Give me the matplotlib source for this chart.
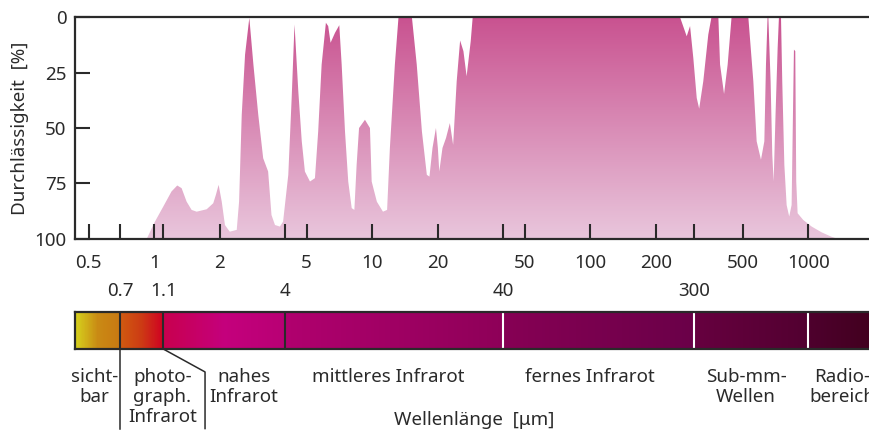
import matplotlib
matplotlib.use("Agg")
import matplotlib.pyplot as plt
import matplotlib.transforms as mtransforms
from matplotlib.colors import LinearSegmentedColormap
from matplotlib.ticker import NullLocator
import numpy as np

plt.rcParams['font.family'] = ['Noto Sans', 'DejaVu Sans']

# absorption of the atmosphere (0 = fully transparent at top, 100 = opaque)
wavelength = [0.923, 1.007, 1.10, 1.20, 1.275, 1.335, 1.408, 1.484, 1.565, 1.74,
              1.865, 1.918, 1.974, 2.04, 2.11, 2.22, 2.39, 2.45, 2.52, 2.61,
              2.73, 2.85, 3.0, 3.16, 3.33, 3.45, 3.58, 3.77, 3.90, 4.12,
              4.27, 4.40, 4.58, 4.75, 4.91, 5.18, 5.46, 5.65, 5.86, 6.13,
              6.28, 6.44, 6.75, 7.06, 7.24, 7.50, 7.76, 8.05, 8.28, 8.48,
              8.70, 9.26, 9.76, 9.94, 10.5, 11.2, 11.7, 12.05, 12.7, 13.2,
              15.2, 16.0, 16.9, 17.8, 18.3, 18.9, 19.6, 20.0, 20.3, 21.0,
              21.8, 22.7, 23.5, 24.4, 25.3, 26.2, 27.1, 28.3, 28.9, 258,
              277, 287, 297, 308, 316, 330, 348, 360, 387, 394,
              411, 427, 445, 531, 560, 580, 607, 629, 640, 651,
              656, 672, 684, 694, 708, 724, 734, 750, 760, 777,
              796, 818, 839, 851, 860, 872, 881, 894, 948, 1037,
              1152, 1279, 1373]
opacity = [100, 92.2, 85.4, 78.6, 75.9, 77.1, 83.2, 86.9, 87.7, 86.6,
           83.9, 80.1, 75.6, 83.2, 93.7, 96.7, 95.9, 83.2, 44, 16.9,
           0.4, 21.4, 44, 63.6, 69.6, 89.2, 93.7, 94.4, 92.2, 71.1,
           36.5, 3.4, 33.5, 56, 69.6, 74.1, 72.6, 51.6, 21.4, 2.6,
           4.1, 11.6, 7.1, 3.7, 21.4, 51.6, 74.1, 86.1, 86.9, 66.6,
           50, 46.3, 50, 74.1, 83.2, 87.7, 86.9, 59, 21.4, 0,
           0, 21.4, 51.6, 71.1, 71.9, 59, 50, 59, 69.6, 59,
           54.5, 47.8, 57.6, 29, 10.6, 15.4, 26.7, 10.9, 0, 0,
           8.7, 4.1, 18.4, 36.5, 41.3, 29, 7.9, 0, 0, 21.4,
           34.7, 21.4, 0, 0, 29, 56, 64.3, 56, 21.4, 0,
           0, 29, 62, 74.1, 44, 13.9, 0, 0, 29, 66.6,
           84.7, 89.9, 84.7, 44, 14.7, 15.4, 74.1, 88.4, 91.4, 94.4,
           97, 99, 100]

major_ticks = [0.5, 1, 2, 5, 10, 20, 50, 100, 200, 500, 1000]
minor_ticks = [0.7, 1.1, 4, 40, 300]
y_ticks = [0, 25, 50, 75, 100]

# spectral bands for the colour bar: start, end, colours along the band
bands = [(0.433, 0.7, ['#D6D21C', '#C98A14', '#C87812']),
         (0.7, 1.1, ['#D05A10', '#CC3A14', '#D00022']),
         (1.1, 4.0, ['#C8004E', '#C4007C', '#B80074']),
         (4.0, 40, ['#B0006E', '#8E0058']),
         (40, 300, ['#860054', '#6A0048']),
         (300, 1000, ['#66003F', '#520030']),
         (1000, 1900, ['#4E002D', '#42001F'])]
dark_dividers = [0.7, 1.1, 4]
white_dividers = [40, 300, 1000]

band_labels = ['sicht-\nbar', 'photo-\ngraph.\nInfrarot', 'nahes\nInfrarot',
               'mittleres Infrarot', 'fernes Infrarot', 'Sub-mm-\nWellen',
               'Radio-\nbereich']
band_label_x = [0.53, 1.09, 2.58, 11.8, 100, 518, 1426]

W, H = 869, 432
fig = plt.figure(figsize=(W / 100, H / 100), dpi=100)
ink = '#2a2a2a'
fs = 13.5

ax = fig.add_axes([75 / W, 1 - 239 / H, 1 - 75 / W, 222 / H])
ax.set_xscale('log')

# gradient fill clipped to the curve
poly_x = list(wavelength) + [wavelength[-1], wavelength[0]]
poly_y = list(opacity) + [100, 100]
patch = ax.fill(poly_x, poly_y, facecolor='none', edgecolor='none')[0]
grad = LinearSegmentedColormap.from_list('pink', ['#C95290', '#E9C6DC'])
im = ax.imshow(np.linspace(0, 1, 256).reshape(-1, 1), cmap=grad, aspect='auto',
               extent=(0.433, 1900, 100, 0), origin='upper', zorder=1)
im.set_clip_path(patch)
ax.set_xlim(0.433, 1900)
ax.set_ylim(100, 0)

for s in ['left', 'top', 'bottom']:
    ax.spines[s].set_linewidth(1.6)
    ax.spines[s].set_color(ink)
    ax.spines[s].set_zorder(3)
ax.spines['right'].set_visible(False)

ax.set_xticks(major_ticks)
ax.set_xticklabels([f'{t:g}' for t in major_ticks])
ax.set_xticks(minor_ticks, minor=True)
ax.set_xticklabels([f'{t:g}' for t in minor_ticks], minor=True)
ax.tick_params(axis='x', which='both', direction='in', length=11, width=1.5,
               color=ink, labelsize=fs, labelcolor=ink)
ax.tick_params(axis='x', which='major', pad=11)
ax.tick_params(axis='x', which='minor', pad=31)
ax.set_yticks(y_ticks)
ax.set_yticklabels([str(t) for t in y_ticks])
ax.tick_params(axis='y', direction='in', length=11, width=1.5, color=ink,
               labelsize=fs, labelcolor=ink, pad=6)
ax.set_ylabel('Durchlässigkeit  [%]', fontsize=fs, color=ink, labelpad=4)

# spectral colour bar
axb = fig.add_axes([75 / W, 1 - 349 / H, 1 - 75 / W, 37 / H])
axb.set_xscale('log')
for start, end, cols in bands:
    edges = np.geomspace(start, end, 80)
    cm = LinearSegmentedColormap.from_list('band', cols)
    axb.pcolormesh(edges, [0, 1], np.linspace(0, 1, 79).reshape(1, -1),
                   cmap=cm, vmin=0, vmax=1, shading='flat')
for d in dark_dividers:
    axb.axvline(d, color=ink, lw=1.5)
for d in white_dividers:
    axb.axvline(d, color='white', lw=1.5)
axb.set_xlim(0.433, 1900)
axb.set_ylim(0, 1)
axb.xaxis.set_major_locator(NullLocator())
axb.xaxis.set_minor_locator(NullLocator())
axb.set_yticks([])
for s in ['left', 'top', 'bottom']:
    axb.spines[s].set_linewidth(1.6)
    axb.spines[s].set_color(ink)
axb.spines['right'].set_visible(False)

trans = mtransforms.blended_transform_factory(axb.transData, axb.transAxes)
for lab, x in zip(band_labels, band_label_x):
    axb.text(x, -0.5, lab, transform=trans, ha='center', va='top',
             fontsize=fs, color=ink, linespacing=1.17, clip_on=False)

# leader lines
axb.plot([0.7, 0.7], [0, -2.15], transform=trans, color=ink, lw=1.1, clip_on=False)
axb.plot([1.1, 1.71, 1.71], [0, -0.62, -2.15], transform=trans, color=ink, lw=1.1,
         clip_on=False)

fig.text(474 / W, 1 - 420 / H, 'Wellenlänge  [μm]', ha='center', va='center',
         fontsize=fs, color=ink)

fig.savefig('out.png', dpi=100)
